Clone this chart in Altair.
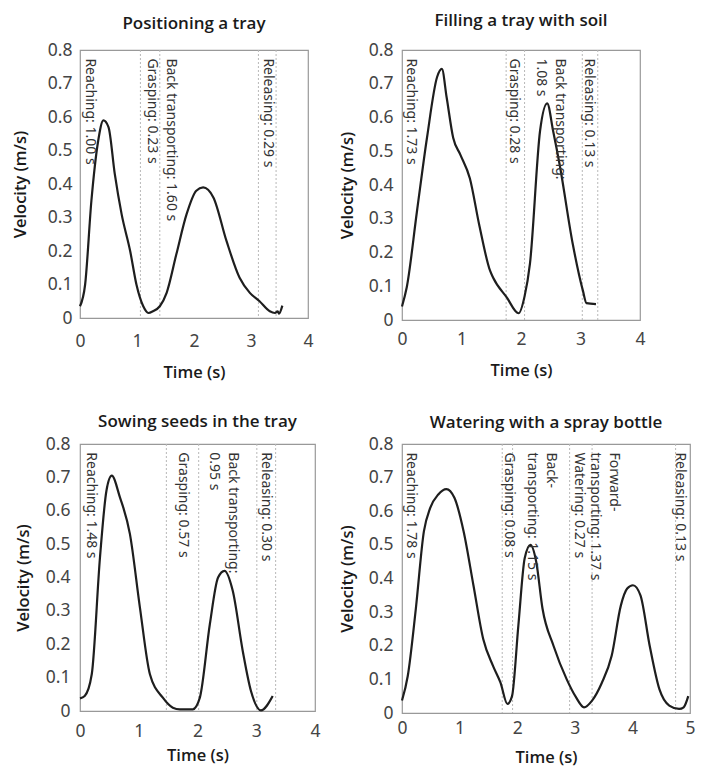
import altair as alt
import pandas as pd

FONT = "Noto Sans"
TFONT = "Open Sans"

# ---------------- Panel 1 ----------------
p1_title = "Positioning a tray"
p1_t = [0, 0.09, 0.20, 0.32, 0.41, 0.50, 0.61, 0.73, 0.88, 0.99, 1.11, 1.20, 1.28, 1.40,
        1.52, 1.69, 1.87, 2.04, 2.16, 2.34, 2.57, 2.80, 2.98, 3.15, 3.33, 3.42, 3.47, 3.49, 3.55]
p1_v = [0.035, 0.10, 0.35, 0.53, 0.59, 0.57, 0.43, 0.31, 0.20, 0.10, 0.035, 0.015, 0.02, 0.035,
        0.075, 0.19, 0.31, 0.38, 0.39, 0.36, 0.23, 0.12, 0.075, 0.05, 0.02, 0.015, 0.02, 0.013, 0.037]
p1_bounds = [1.06, 1.40, 3.13, 3.44]
p1_labels = ["Reaching: 1.00 s", "Grasping: 0.23 s", "Back transporting: 1.60 s", "Releasing: 0.29 s"]
p1_label_t = [0.17, 1.26, 1.59, 3.30]

# ---------------- Panel 2 ----------------
p2_title = "Filling a tray with soil"
p2_t = [0, 0.08, 0.25, 0.42, 0.59, 0.67, 0.75, 0.86, 0.98, 1.14, 1.30, 1.48, 1.53, 1.76, 1.96,
        2.06, 2.15, 2.32, 2.44, 2.54, 2.65, 2.87, 3.04, 3.10, 3.26]
p2_v = [0.04, 0.097, 0.32, 0.54, 0.72, 0.744, 0.66, 0.54, 0.49, 0.42, 0.28, 0.146, 0.126, 0.067, 0.02,
        0.07, 0.166, 0.56, 0.642, 0.56, 0.46, 0.225, 0.087, 0.05, 0.047]
p2_bounds = [1.75, 2.06, 3.03, 3.29]
p2_labels = ["Reaching: 1.73 s", "Grasping: 0.28 s", "Back transporting:\n1.08 s", "Releasing: 0.13 s"]
p2_label_t = [0.15, 1.89, 2.66, 3.14]

# ---------------- Panel 3 ----------------
p3_title = "Sowing seeds in the tray"
p3_t = [0, 0.08, 0.20, 0.34, 0.45, 0.54, 0.68, 0.85, 1.02, 1.19, 1.41, 1.58, 1.70, 1.92, 2.04,
        2.21, 2.35, 2.46, 2.60, 2.77, 2.91, 3.08, 3.28]
p3_v = [0.038, 0.045, 0.11, 0.46, 0.66, 0.705, 0.64, 0.53, 0.31, 0.11, 0.04, 0.01, 0.005, 0.005, 0.04,
        0.26, 0.40, 0.42, 0.36, 0.18, 0.06, 0.002, 0.045]
p3_bounds = [1.47, 2.02, 3.01, 3.33]
p3_labels = ["Reaching: 1.48 s", "Grasping: 0.57 s", "Back transporting:\n0.95 s", "Releasing: 0.30 s"]
p3_label_t = [0.18, 1.75, 2.60, 3.17]

# ---------------- Panel 4 ----------------
p4_title = "Watering with a spray bottle"
p4_t = [0, 0.10, 0.24, 0.38, 0.49, 0.63, 0.77, 0.91, 1.07, 1.24, 1.41, 1.58, 1.71, 1.83, 1.91,
        2.02, 2.13, 2.23, 2.33, 2.44, 2.63, 2.86, 3.02, 3.16, 3.30, 3.47, 3.64, 3.80, 3.91, 4.01,
        4.14, 4.30, 4.47, 4.64, 4.81, 4.89, 4.97]
p4_v = [0.037, 0.11, 0.31, 0.54, 0.61, 0.65, 0.666, 0.64, 0.54, 0.38, 0.22, 0.14, 0.09, 0.027, 0.05,
        0.26, 0.46, 0.50, 0.45, 0.31, 0.20, 0.10, 0.047, 0.017, 0.037, 0.09, 0.17, 0.32, 0.37, 0.38,
        0.35, 0.20, 0.07, 0.022, 0.012, 0.017, 0.05]
p4_bounds = [1.74, 1.92, 2.91, 3.30, 4.75]
p4_labels = ["Reaching: 1.78 s", "Grasping: 0.08 s", "Back-\ntransporting: 1.15 s", "Watering: 0.27 s",
             "Forward-\ntransporting: 1.37 s", "Releasing: 0.13 s"]
p4_label_t = [0.16, 1.85, 2.59, 3.08, 3.68, 4.83]

Y_TICKS = [0, 0.1, 0.2, 0.3, 0.4, 0.5, 0.6, 0.7, 0.8]


def panel(title, t, v, bounds, labels, label_t, xmax, width, height,
          y_lab_pad, y_title_pad, x_lab_pad, x_title_pad, title_offset):
    xscale = alt.Scale(domain=[0, xmax], nice=False)
    yscale = alt.Scale(domain=[0, 0.8], nice=False)
    xaxis = alt.Axis(values=list(range(xmax + 1)), labelPadding=x_lab_pad,
                     titlePadding=x_title_pad, format="~g", labelFlush=False)
    yaxis = alt.Axis(values=Y_TICKS, labelPadding=y_lab_pad, titlePadding=y_title_pad,
                     format="~g", labelFlush=False)

    curve = pd.DataFrame({"t": t, "v": v})
    bdf = pd.DataFrame({"t": bounds})
    ldf = pd.DataFrame({"t": label_t, "label": labels})

    rules = alt.Chart(bdf).mark_rule(color="#b8b8b8", strokeDash=[2, 2], strokeWidth=1).encode(
        x=alt.X("t:Q", scale=xscale, axis=xaxis, title="Time (s)"),
    )
    line = alt.Chart(curve).mark_line(color="#1e1e1e", strokeWidth=2.2,
                                      interpolate="monotone").encode(
        x=alt.X("t:Q", scale=xscale, axis=xaxis, title="Time (s)"),
        y=alt.Y("v:Q", scale=yscale, axis=yaxis, title="Velocity (m/s)"),
    )
    texts = alt.Chart(ldf).mark_text(angle=90, align="left", baseline="middle", lineBreak="\n",
                                     lineHeight=19, font=FONT, fontSize=14,
                                     color="#333333").encode(
        x=alt.X("t:Q", scale=xscale, axis=xaxis, title="Time (s)"),
        y=alt.Y(datum=0.775, scale=yscale, axis=yaxis, title="Velocity (m/s)"),
        text="label:N",
    )
    return alt.layer(rules, line, texts).properties(
        width=width, height=height,
        title=alt.TitleParams(title, frame="group", offset=title_offset, font=TFONT,
                              fontSize=17, fontWeight=600, color="#1a1a1a"),
    )


c1 = panel(p1_title, p1_t, p1_v, p1_bounds, p1_labels, p1_label_t, 4, 228, 268, 8, 19, 14, 15, 8)
c2 = panel(p2_title, p2_t, p2_v, p2_bounds, p2_labels, p2_label_t, 4, 238, 270, 9, 13, 10, 15, 11)
c3 = panel(p3_title, p3_t, p3_v, p3_bounds, p3_labels, p3_label_t, 4, 235, 267, 10, 14, 11, 8, 4)
c4 = panel(p4_title, p4_t, p4_v, p4_bounds, p4_labels, p4_label_t, 5, 288, 269, 9, 13, 6, 13, 3)

chart = alt.concat(
    c1, c2, c3, c4, columns=2,
    spacing={"row": 30, "column": 17},
).configure_view(
    stroke="#999999", strokeWidth=1.2
).configure_axis(
    domain=False, ticks=False, tickSize=0, grid=False,
    labelFont=FONT, labelFontSize=17.5, labelColor="#444444",
    titleFont=TFONT, titleFontSize=16.5, titleFontWeight=600, titleColor="#1a1a1a",
).properties(padding={"left": 3, "top": 3, "right": 0, "bottom": 0}, background="white")

chart.save("out.html", embed_options={"renderer": "svg", "actions": False})
